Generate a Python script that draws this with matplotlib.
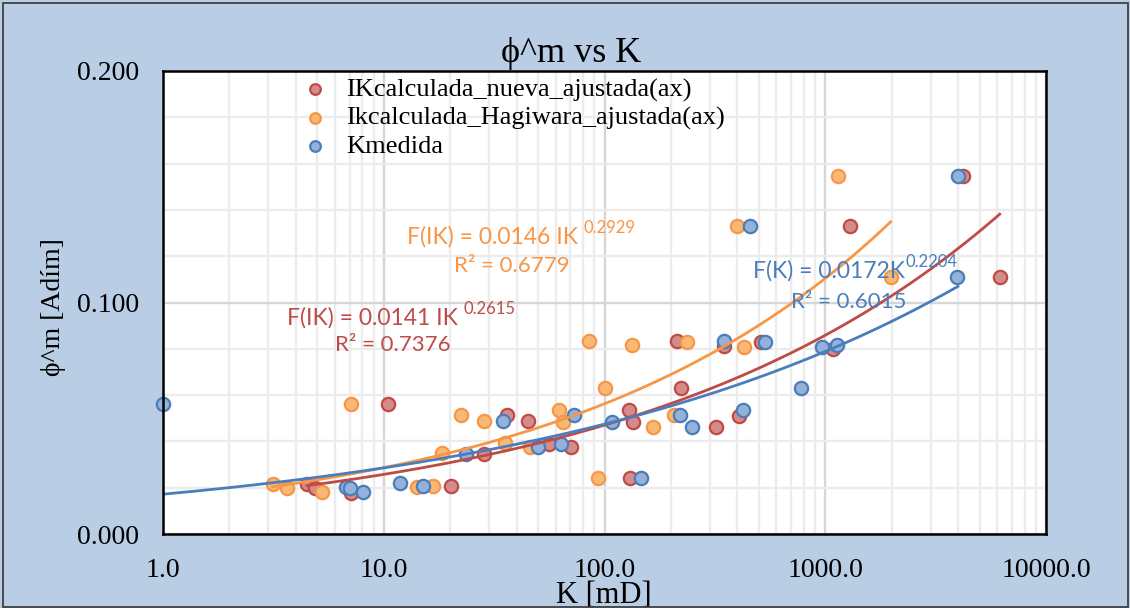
import numpy as np
import matplotlib
matplotlib.use("Agg")
import matplotlib.pyplot as plt
from matplotlib.ticker import FixedLocator, FuncFormatter, LogLocator, NullFormatter
from matplotlib.patches import Rectangle

# ---------------- data ----------------
k_nueva = [4.49, 4.90, 7.13, 10.4, 20.1, 28.4, 36.0, 45.1, 56.1, 70.8, 129, 130.4, 135,
           213, 222, 320, 349, 405, 512, 1079, 1297, 4218, 6170]
phi_nueva = [0.0218, 0.0197, 0.0179, 0.0563, 0.0207, 0.0344, 0.0512, 0.0490, 0.0389, 0.0374,
             0.0537, 0.0244, 0.0483, 0.0834, 0.0630, 0.0461, 0.0813, 0.0509, 0.0830, 0.0798,
             0.1332, 0.1546, 0.1112]

k_hagi = [3.14, 3.63, 5.25, 7.13, 14.1, 16.7, 18.4, 22.3, 28.5, 35.4, 45.9, 62.1, 64.9, 84.9,
          93.5, 100.9, 133, 166, 206, 236, 398, 430, 1143, 1977]
phi_hagi = [0.0218, 0.0197, 0.0182, 0.0563, 0.0201, 0.0207, 0.0348, 0.0512, 0.0490, 0.0392,
            0.0374, 0.0537, 0.0483, 0.0834, 0.0244, 0.0630, 0.0816, 0.0461, 0.0512, 0.0830,
            0.1332, 0.0806, 0.1546, 0.1112]

k_med = [1.0, 6.74, 7.0, 8.04, 11.9, 15.1, 23.6, 34.7, 50.0, 63.8, 72.6, 108, 147, 219, 249,
         347, 426, 458, 534, 776, 962, 1136, 3936, 3990]
phi_med = [0.0563, 0.0204, 0.0199, 0.0182, 0.0220, 0.0208, 0.0346, 0.0490, 0.0374, 0.0389,
           0.0512, 0.0483, 0.0244, 0.0512, 0.0461, 0.0834, 0.0534, 0.1332, 0.0830, 0.0632,
           0.0806, 0.0816, 0.1112, 0.1546]

series_labels = ["IKcalculada_nueva_ajustada(ax)", "Ikcalculada_Hagiwara_ajustada(ax)", "Kmedida"]

# power-law trendlines shown on the chart: a * K^b
fit_a = [0.0141, 0.0146, 0.0172]
fit_b = [0.2615, 0.2929, 0.2204]
fit_r2 = [0.7376, 0.6779, 0.6015]

x_ticks = [1, 10, 100, 1000, 10000]
y_ticks = [0.0, 0.1, 0.2]

# ---------------- style ----------------
serif = ["Liberation Serif", "DejaVu Serif"]
eqfont = ["Lato", "DejaVu Sans"]
BG = "#B9CDE5"
face_cols = ["#D58B8A", "#FAB877", "#93B1D9"]
edge_cols = ["#BE4B48", "#F79646", "#4A7EBB"]
line_cols = ["#BE4B48", "#F79646", "#4A7EBB"]

W, H = 1130, 608
fig = plt.figure(figsize=(W / 100, H / 100), dpi=100, facecolor=BG)
fig.patches.append(Rectangle((3 / W, 1.5 / H), 1 - 5.5 / W, 1 - 4 / H, transform=fig.transFigure,
                             fill=False, edgecolor="#404040", linewidth=1.3, zorder=10))

x0, x1, y0, y1 = 163, 1046, 71, 534
ax = fig.add_axes([x0 / W, 1 - y1 / H, (x1 - x0) / W, (y1 - y0) / H])
ax.set_facecolor("white")
ax.set_xscale("log")
ax.set_xlim(1, 10000)
ax.set_ylim(0, 0.2)

ax.xaxis.set_major_locator(FixedLocator(x_ticks))
ax.xaxis.set_minor_locator(LogLocator(base=10, subs=np.arange(2, 10)))
ax.xaxis.set_minor_formatter(NullFormatter())
ax.xaxis.set_major_formatter(FuncFormatter(lambda v, p: f"{v:.1f}"))
ax.yaxis.set_major_locator(FixedLocator(y_ticks))
ax.yaxis.set_minor_locator(FixedLocator(np.arange(0.02, 0.2, 0.02)))
ax.yaxis.set_major_formatter(FuncFormatter(lambda v, p: f"{v:.3f}"))

ax.grid(True, which="minor", color="#ECECEC", linewidth=1.7, zorder=0)
ax.grid(True, which="major", color="#D6D6D6", linewidth=1.7, zorder=0)
ax.set_axisbelow(True)
ax.tick_params(which="both", length=0)
ax.tick_params(axis="x", pad=17, labelsize=20)
ax.tick_params(axis="y", pad=17, labelsize=20)
for lab in ax.get_xticklabels() + ax.get_yticklabels():
    lab.set_family(serif)
for s in ax.spines.values():
    s.set_linewidth(1.8)
    s.set_color("black")
    s.set_zorder(6)

xs = [k_nueva, k_hagi, k_med]
ys = [phi_nueva, phi_hagi, phi_med]
for i in range(3):
    ax.scatter(xs[i], ys[i], s=92, facecolor=face_cols[i], edgecolor=edge_cols[i],
               linewidths=1.6, zorder=3 + i * 0.1, clip_on=False, label=series_labels[i])

for i in range(3):
    kk = np.logspace(np.log10(min(xs[i])), np.log10(max(xs[i])), 200)
    ax.plot(kk, fit_a[i] * kk ** fit_b[i], color=line_cols[i], linewidth=2.0, zorder=4)

# equation labels
def eq_label(x, y, main, sup, r2, rx, ry, color):
    t = ax.text(x, y, main, transform=ax.transAxes, ha="left", va="center",
                fontsize=16.5, family=eqfont, color=color, zorder=7)
    ax.annotate(sup, xy=(1.0, 0.9), xycoords=t, ha="left", va="center",
                fontsize=12, family=eqfont, color=color, zorder=7)
    ax.text(rx, ry, r2, transform=ax.transAxes, ha="left", va="center",
            fontsize=16, family=eqfont, color=color, zorder=7)

eq_label(0.2763, 0.6415, f"F(IK) = {fit_a[1]:.4f} IK ", f"{fit_b[1]:.4f}",
         f"R² = {fit_r2[1]:.4f}", 0.3296, 0.5797, line_cols[1])
eq_label(0.1404, 0.4665, f"F(IK) = {fit_a[0]:.4f} IK ", f"{fit_b[0]:.4f}",
         f"R² = {fit_r2[0]:.4f}", 0.1948, 0.4082, line_cols[0])
eq_label(0.6682, 0.568, f"F(K) = {fit_a[2]:.4f}K", f"{fit_b[2]:.4f}",
         f"R² = {fit_r2[2]:.4f}", 0.7112, 0.5017, line_cols[2])

leg = ax.legend(loc="upper left", bbox_to_anchor=(0.157, 0.985), frameon=False,
                prop={"family": serif, "size": 19}, handlelength=1.0, handletextpad=0.7,
                labelspacing=0.17, borderpad=0, borderaxespad=0, markerscale=0.8)

ax.set_title("ϕ^m vs K", x=0.462, y=1.019, pad=0, fontsize=26, family=serif)
ax.set_xlabel("K [mD]", fontsize=22, family=serif, va="center")
ax.xaxis.set_label_coords(0.499, -0.133)
ax.set_ylabel("ϕ^m [Adím]", fontsize=20, family=serif, va="center")
ax.yaxis.set_label_coords(-0.124, 0.49)

fig.savefig("out.png", dpi=100, facecolor=BG)
